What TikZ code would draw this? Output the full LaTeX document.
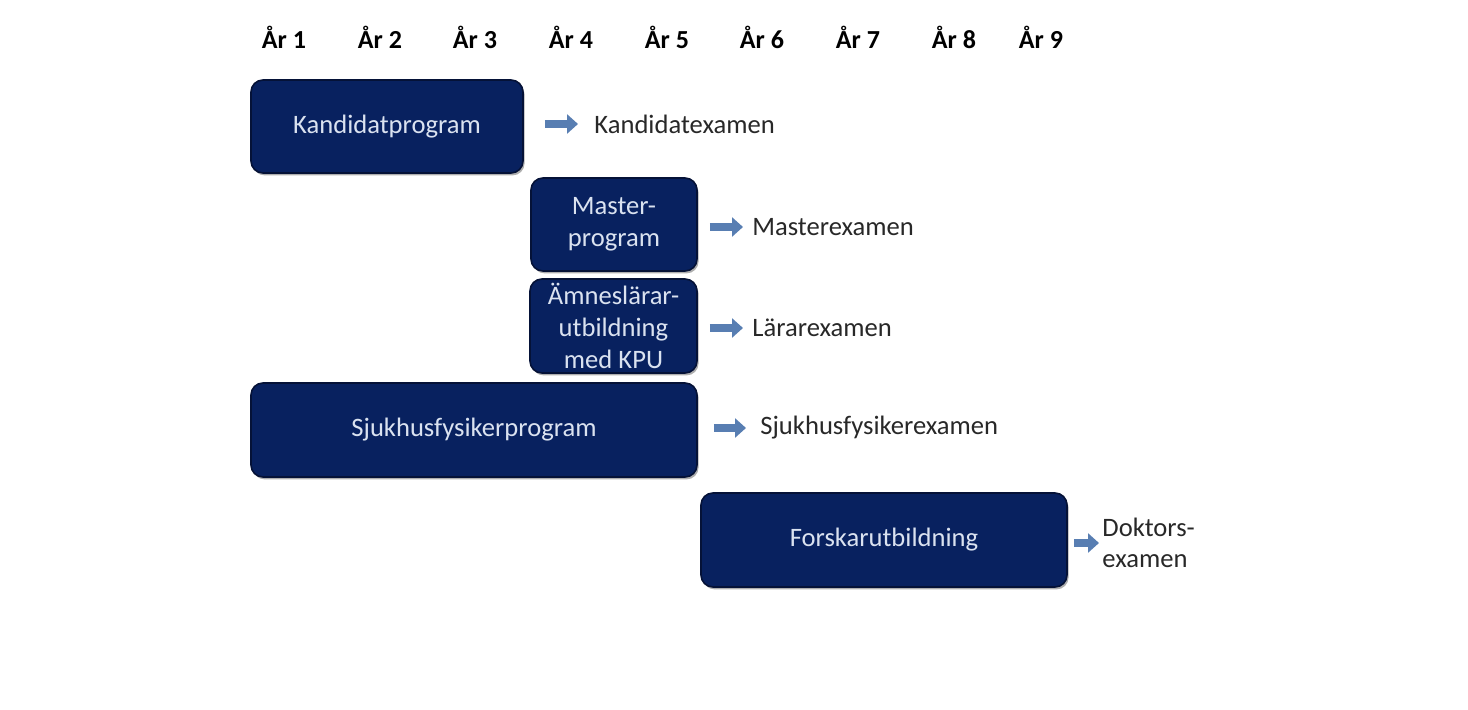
\documentclass[tikz,border=0pt]{standalone}
\usepackage{fontspec}
\setmainfont{Carlito}
\usetikzlibrary{arrows.meta,shadows}
\definecolor{navy}{RGB}{8,33,95}
\definecolor{navyline}{RGB}{5,18,55}
\definecolor{boxtext}{RGB}{218,226,240}
\definecolor{arrowblue}{RGB}{88,126,178}
\definecolor{labelgray}{RGB}{40,40,40}
\tikzset{
  prog/.style={draw=navyline, line width=0.8pt, fill=navy, rounded corners=6pt,
    text=boxtext, align=center, inner sep=0pt,
    font=\fontsize{13.3}{15.8}\selectfont,
    drop shadow={shadow xshift=0.8pt, shadow yshift=-1.2pt, opacity=0.45, fill=black!70}},
  exam/.style={anchor=west, inner sep=0pt, text=labelgray, align=left,
    font=\fontsize{13.3}{15.8}\selectfont},
  year/.style={inner sep=0pt, font=\fontsize{13}{15}\selectfont\bfseries},
  barrow/.style={draw=arrowblue, line width=4.2pt,
    -{Triangle[length=5.5pt,width=9.5pt]}}
}
\begin{document}
\begin{tikzpicture}[x=0.5pt,y=-0.5pt]
\useasboundingbox (0,0) rectangle (1468,710);
% years
\foreach \n/\x in {1/284,2/380,3/475,4/571,5/667,6/762,7/858,8/954,9/1041}
  \node[year] (y\n) at (\x,37) {År \n};
% programme boxes
\node[prog, minimum width=136pt, minimum height=46.5pt] (k) at (387,126.5) {Kandidatprogram};
\node[prog, minimum width=83pt, minimum height=46.5pt] (m) at (614,224.5) {Master-\\program};
\node[prog, minimum width=83.5pt, minimum height=47pt] (l) at (613.5,326) {Ämneslärar-\\utbildning\\med KPU};
\node[prog, minimum width=223pt, minimum height=47pt] (s) at (474,430) {Sjukhusfysikerprogram};
\node[prog, minimum width=183pt, minimum height=47pt] (f) at (884,540) {Forskarutbildning};
% degree labels
\node[exam] (kx) at (594,124) {Kandidatexamen};
\node[exam] (mx) at (752,227) {Masterexamen};
\node[exam] (lx) at (752,328) {Lärarexamen};
\node[exam] (sx) at (760,428) {Sjukhusfysikerexamen};
\node[exam] (fx) at (1102,543) {Doktors-\\examen};
% arrows
\draw[barrow, shorten <=10.5pt, shorten >=8pt] (kx.west -| k.east) -- (kx.west);
\draw[barrow, shorten <=6pt, shorten >=4.5pt] (mx.west -| m.east) -- (mx.west);
\draw[barrow, shorten <=6pt, shorten >=4.5pt] (lx.west -| l.east) -- (lx.west);
\draw[barrow, shorten <=8pt, shorten >=7pt] (sx.west -| s.east) -- (sx.west);
\draw[barrow, shorten <=3pt, shorten >=1.5pt] (fx.west -| f.east) -- (fx.west);
\end{tikzpicture}
\end{document}
